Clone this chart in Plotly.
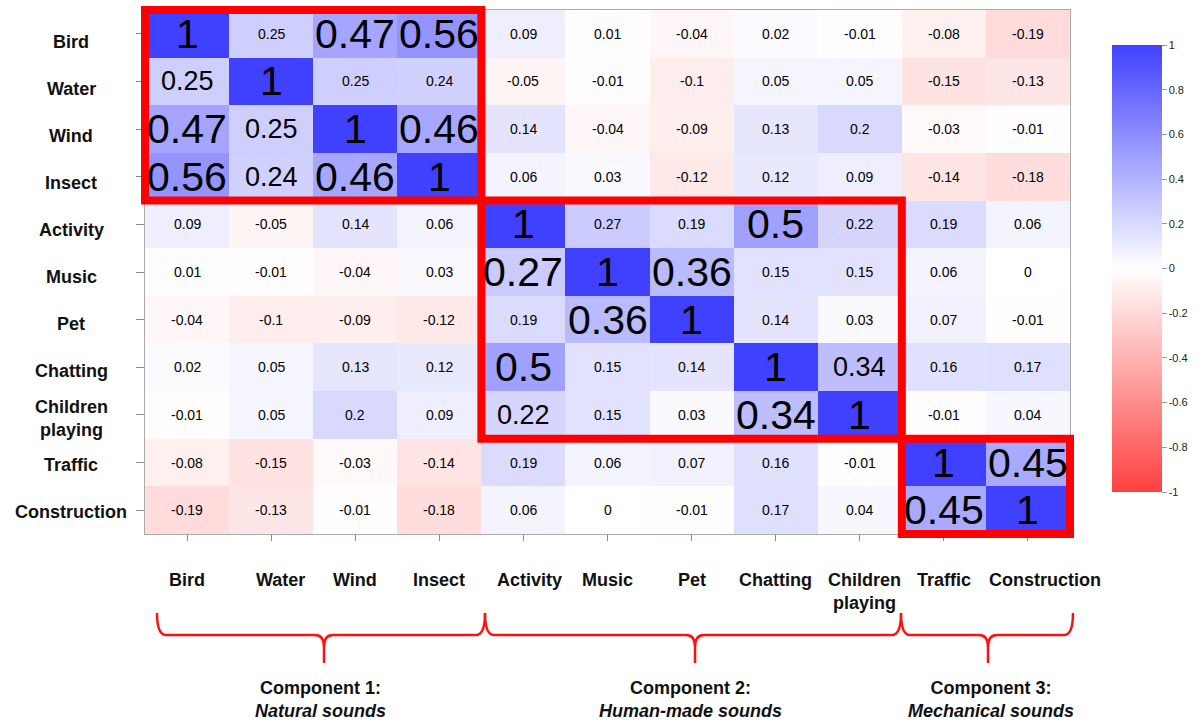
import plotly.graph_objects as go

# ---------------- data ----------------
sounds = ["Bird", "Water", "Wind", "Insect", "Activity", "Music", "Pet",
          "Chatting", "Children playing", "Traffic", "Construction"]
tick_labels = ["Bird", "Water", "Wind", "Insect", "Activity", "Music", "Pet",
               "Chatting", "Children<br>playing", "Traffic", "Construction"]

r_bird = [1, 0.25, 0.47, 0.56, 0.09, 0.01, -0.04, 0.02, -0.01, -0.08, -0.19]
r_water = [0.25, 1, 0.25, 0.24, -0.05, -0.01, -0.1, 0.05, 0.05, -0.15, -0.13]
r_wind = [0.47, 0.25, 1, 0.46, 0.14, -0.04, -0.09, 0.13, 0.2, -0.03, -0.01]
r_insect = [0.56, 0.24, 0.46, 1, 0.06, 0.03, -0.12, 0.12, 0.09, -0.14, -0.18]
r_activity = [0.09, -0.05, 0.14, 0.06, 1, 0.27, 0.19, 0.5, 0.22, 0.19, 0.06]
r_music = [0.01, -0.01, -0.04, 0.03, 0.27, 1, 0.36, 0.15, 0.15, 0.06, 0]
r_pet = [-0.04, -0.1, -0.09, -0.12, 0.19, 0.36, 1, 0.14, 0.03, 0.07, -0.01]
r_chatting = [0.02, 0.05, 0.13, 0.12, 0.5, 0.15, 0.14, 1, 0.34, 0.16, 0.17]
r_children = [-0.01, 0.05, 0.2, 0.09, 0.22, 0.15, 0.03, 0.34, 1, -0.01, 0.04]
r_traffic = [-0.08, -0.15, -0.03, -0.14, 0.19, 0.06, 0.07, 0.16, -0.01, 1, 0.45]
r_construction = [-0.19, -0.13, -0.01, -0.18, 0.06, 0, -0.01, 0.17, 0.04, 0.45, 1]

corr = [r_bird, r_water, r_wind, r_insect, r_activity, r_music, r_pet,
        r_chatting, r_children, r_traffic, r_construction]

# components: (title, subtitle, first index, last index)
components = [
    ("Component 1:", "Natural sounds", 0, 3),
    ("Component 2:", "Human-made sounds", 4, 8),
    ("Component 3:", "Mechanical sounds", 9, 10),
]

colorbar_ticks = [1, 0.8, 0.6, 0.4, 0.2, 0, -0.2, -0.4, -0.6, -0.8, -1]

# ---------------- styles ----------------
SMALL, MED, LARGE = 14, 27, 41
# per-cell label size classes inside the component blocks (others small)
size_blocks = {
    0: "LSLL", 1: "MLSS", 2: "LMLL", 3: "LMLL",
    4: "LSSLS", 5: "LLLSS", 6: "SLLSS", 7: "LSSLM", 8: "MSSLL",
    9: "LL", 10: "LL",
}
size_map = {"S": SMALL, "M": MED, "L": LARGE}
x_label_nudge = {"Water": 9, "Activity": 6, "Construction": 17, "Children playing": 5}

W, H = 1202, 725
ML, MR, MT, MB = 145, 132, 10, 191
PW, PH = W - ML - MR, H - MT - MB

# row labels are spaced slightly tighter than the cells in the original
YLAB_FIRST_PX, YLAB_STEP_PX = 42, 47


def px2x(px):
    return (px - ML) / PW


def px2y(py):
    return (H - MB - py) / PH


FONT = "Liberation Sans, Arial, sans-serif"
n = len(sounds)

fig = go.Figure()
fig.add_trace(go.Heatmap(
    z=corr, x=sounds, y=sounds,
    zmin=-1, zmax=1,
    colorscale=[[0, "rgb(255,64,64)"], [0.5, "rgb(255,255,255)"], [1, "rgb(64,64,255)"]],
    showscale=True,
    colorbar=dict(
        thickness=50, thicknessmode="pixels",
        len=447 / PH, lenmode="fraction",
        x=px2x(1112), xanchor="left", xpad=0,
        y=px2y(268.5), yanchor="middle", ypad=0,
        outlinewidth=0,
        tickvals=colorbar_ticks,
        ticktext=[str(v) for v in colorbar_ticks],
        ticks="outside", ticklen=5, tickcolor="#999",
        tickfont=dict(family=FONT, size=11, color="#222"),
    ),
    hoverinfo="skip",
))

annotations = []
# cell values
comp_of = {}
for ci, (_, _, a, b) in enumerate(components):
    for k in range(a, b + 1):
        comp_of[k] = (ci, a)
for i in range(n):
    for j in range(n):
        size = SMALL
        if i in comp_of and j in comp_of and comp_of[i][0] == comp_of[j][0]:
            code = size_blocks[i][j - comp_of[i][1]]
            size = size_map[code]
        v = corr[i][j]
        annotations.append(dict(
            x=sounds[j], y=sounds[i], xref="x", yref="y",
            text=f"{v:g}", showarrow=False,
            font=dict(family=FONT, size=size, color="#000"),
        ))

# y labels (centered)
for i, lab in enumerate(tick_labels):
    annotations.append(dict(
        x=px2x(71), y=px2y(YLAB_FIRST_PX + i * YLAB_STEP_PX), xref="paper", yref="paper",
        text=f"<b>{lab}</b>", showarrow=False, xanchor="center", yanchor="middle",
        align="center",
        font=dict(family=FONT, size=18, color="#111"),
    ))
# x labels
for j, lab in enumerate(tick_labels):
    annotations.append(dict(
        x=sounds[j], y=px2y(568), xref="x", yref="paper",
        text=f"<b>{lab}</b>", showarrow=False, xanchor="center", yanchor="top",
        align="center", xshift=x_label_nudge.get(sounds[j], 0),
        font=dict(family=FONT, size=18, color="#111"),
    ))

# braces and component texts
brace_px = [(157, 324, 485), (485, 695, 901), (901, 988, 1073)]
text_centers_px = [320, 690, 991]
shapes = []
y_top, y_mid, y_tip, d = 613, 635, 663, 9
for (a, m, b), (title, sub, i0, i1), tc in zip(brace_px, components, text_centers_px):
    pts = (f"M {px2x(a)},{px2y(y_top)} "
           f"Q {px2x(a)},{px2y(y_mid)} {px2x(a + d)},{px2y(y_mid)} "
           f"L {px2x(m - d)},{px2y(y_mid)} "
           f"Q {px2x(m)},{px2y(y_mid)} {px2x(m)},{px2y(y_mid + d + 3)} "
           f"L {px2x(m)},{px2y(y_tip)} "
           f"M {px2x(m)},{px2y(y_mid + d + 3)} "
           f"Q {px2x(m)},{px2y(y_mid)} {px2x(m + d)},{px2y(y_mid)} "
           f"L {px2x(b - d)},{px2y(y_mid)} "
           f"Q {px2x(b)},{px2y(y_mid)} {px2x(b)},{px2y(y_top)}")
    shapes.append(dict(type="path", path=pts, xref="paper", yref="paper",
                       line=dict(color="#ff1010", width=2.5)))
    annotations.append(dict(
        x=px2x(tc), y=px2y(676), xref="paper", yref="paper",
        text=f"<b>{title}</b><br><b><i>{sub}</i></b>", showarrow=False,
        xanchor="center", yanchor="top", align="center",
        font=dict(family=FONT, size=18, color="#111"),
    ))
    # red box around the component block
    shapes.append(dict(
        type="rect", xref="paper", yref="paper",
        x0=i0 / n, x1=(i1 + 1) / n,
        y0=1 - (i1 + 1) / n, y1=1 - i0 / n,
        line=dict(color="#ff0000", width=8), fillcolor="rgba(0,0,0,0)",
        layer="above",
    ))

fig.update_layout(
    width=W, height=H,
    margin=dict(l=ML, r=MR, t=MT, b=MB, pad=0, autoexpand=False),
    paper_bgcolor="white", plot_bgcolor="white",
    annotations=annotations, shapes=shapes,
    showlegend=False,
    xaxis=dict(showticklabels=False, ticks="outside", ticklen=6, tickcolor="#888",
               range=[-0.5, n - 0.5], autorange=False,
               showgrid=False, zeroline=False, showline=True, mirror=True,
               linecolor="#aaa", linewidth=1),
    yaxis=dict(showticklabels=False, ticks="outside", ticklen=8, tickcolor="#888",
               range=[n - 0.5, -0.5], autorange=False,
               showgrid=False, zeroline=False, showline=True, mirror=True,
               linecolor="#aaa", linewidth=1),
)

fig.write_html("out.html", config={"displayModeBar": False},
               post_script="document.body.style.margin='0';document.body.style.padding='0';")
